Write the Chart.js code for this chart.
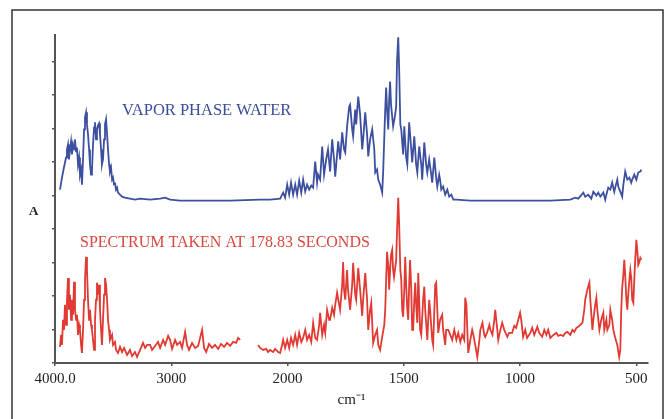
<!DOCTYPE html>
<html>
<head>
<meta charset="utf-8">
<script src="https://cdn.jsdelivr.net/npm/chart.js@4.4.0/dist/chart.umd.min.js"></script>
<style>
  html, body { margin: 0; padding: 0; background: #fff; }
</style>
</head>
<body>
<canvas id="spectrum" width="672" height="419"></canvas>
<script>
const tickValues = [4000, 3000, 2000, 1500, 1000, 500];
const tickLabels = ['4000.0', '3000', '2000', '1500', '1000', '500'];

// vapor phase water (blue)
const vaporWavenumber = [3957,3940,3923,3905,3897,3888,3880,3871,3862,3854,3845,3836,3828,3819,3811,3802,3793,3785,3776,3768,
  3759,3750,3742,3733,3725,3716,3707,3699,3690,3682,3673,3664,3656,3647,3639,3630,3621,3613,3604,3596,
  3587,3578,3570,3561,3552,3544,3535,3527,3518,3509,3501,3492,3484,3475,3466,3458,3441,3423,3398,3355,
  3312,3268,3182,3096,3053,3010,2924,2752,2494,2236,2150,2064,2038,2021,2003,1993,1985,1976,1967,1959,
  1950,1941,1933,1924,1916,1907,1898,1890,1881,1873,1869,1860,1851,1843,1834,1826,1817,1808,1800,1795,
  1787,1782,1774,1765,1757,1752,1744,1735,1731,1722,1718,1709,1705,1696,1688,1679,1675,1666,1658,1653,
  1645,1636,1627,1623,1615,1610,1602,1593,1589,1580,1576,1572,1567,1563,1559,1555,1546,1537,1533,1529,
  1524,1520,1515,1511,1503,1498,1490,1485,1477,1468,1464,1455,1447,1442,1434,1425,1421,1412,1404,1399,
  1391,1382,1378,1369,1361,1356,1348,1344,1339,1331,1322,1313,1305,1296,1287,1274,1214,1128,1000,870,
  784,763,750,728,720,707,694,685,672,664,655,642,634,629,621,612,604,595,591,582,
  578,569,561,556,548,539,530,522,518,509,500,492,483,479];
const vaporAbs = [5.18,5.54,5.84,6.14,6.38,6.53,6.08,6.38,6.62,6.23,6.53,6.38,6.68,6.32,6.44,5.93,6.14,5.63,5.78,5.33,
  6.08,6.98,7.34,7.49,7.13,6.83,6.38,5.93,5.63,5.78,6.53,7.04,7.19,6.68,6.98,7.10,7.16,6.83,6.38,5.93,
  6.08,6.68,7.13,7.28,6.83,6.38,5.93,5.72,5.84,5.48,5.54,5.33,5.39,5.18,5.24,5.09,5.03,4.97,4.94,4.91,
  4.88,4.91,4.88,4.91,4.94,4.88,4.85,4.85,4.85,4.88,4.88,4.91,5.09,4.94,5.33,5.03,5.39,5.03,5.33,5.03,
  5.45,5.09,5.48,5.12,5.33,5.18,5.30,5.24,6.02,5.39,5.63,5.48,6.47,5.63,6.08,6.38,5.72,6.68,6.08,5.57,
  6.23,6.62,6.08,6.89,6.38,6.29,7.07,7.66,7.72,6.98,6.77,7.57,7.13,7.96,7.43,6.38,6.68,7.49,6.83,6.17,
  6.68,6.98,6.38,5.69,5.78,5.48,5.33,5.09,5.69,7.57,8.23,7.57,6.98,7.87,8.41,7.72,7.07,7.43,7.66,9.07,
  9.73,8.77,7.13,6.98,6.23,7.07,6.14,5.93,7.19,6.38,5.99,6.77,5.93,5.69,6.47,5.93,5.48,6.59,5.93,5.69,
  6.08,5.63,5.39,6.14,5.54,5.27,5.63,5.48,5.18,5.27,5.03,5.18,4.97,5.03,4.88,4.88,4.85,4.85,4.85,4.85,
  4.88,4.94,4.91,5.09,4.97,5.03,4.91,5.12,5.00,5.09,4.97,5.09,4.88,5.03,5.24,5.18,5.39,5.12,5.24,5.48,
  5.27,5.12,4.97,5.33,5.72,5.48,5.54,5.39,5.48,5.63,5.48,5.69,5.72,5.78];

// spectrum at 178.83 s (red), null = gap in the recorded trace
const sampleWavenumber = [3957,3948,3940,3931,3923,3914,3905,3897,3888,3880,3871,3862,3854,3845,3836,3828,3819,3811,3802,3793,
  3785,3776,3768,3759,3750,3742,3733,3725,3716,3707,3699,3690,3682,3673,3664,3656,3647,3639,3630,3621,
  3613,3604,3596,3587,3578,3570,3561,3552,3544,3535,3527,3509,3501,3484,3475,3458,3441,3423,3406,3380,
  3355,3337,3312,3294,3268,3243,3225,3208,3182,3165,3139,3114,3096,3070,3053,3027,3010,2993,2967,2950,
  2924,2907,2881,2864,2847,2821,2795,2769,2752,2735,2718,2700,2675,2649,2623,2597,2572,2546,2520,2494,
  2468,2442,2425,2408,2330,
  2253,2236,2210,2184,2167,2150,2124,2107,2081,2064,2047,2038,2021,2003,1993,1985,1976,1967,1959,1950,
  1941,1933,1924,1916,1907,1898,1890,1881,1873,1864,1860,1851,1843,1838,1830,1821,1817,1808,1800,1795,
  1787,1782,1774,1765,1761,1757,1752,1744,1740,1731,1722,1718,1709,1705,1696,1688,1679,1675,1666,1658,
  1653,1645,1640,1632,1623,1615,1610,1602,1593,1584,1580,1576,1572,1567,1563,1559,1555,1550,1546,1542,
  1537,1533,1529,1524,1520,1515,1511,1507,1503,1498,1494,1490,1485,1481,1477,1473,1468,1464,1460,1455,
  1451,1447,1442,1438,1434,1430,1425,1417,1412,1408,1399,1391,1387,1378,1374,1365,1361,1356,1352,1344,
  1335,1331,1322,1318,1309,1300,1292,1283,1274,1266,1257,1249,1240,1236,1231,1227,1223,1214,1206,1201,
  1193,1184,1175,1171,1162,1154,1150,1141,1132,1128,1119,1111,1107,1098,1094,1085,1077,1068,1055,1047,
  1034,1025,1017,1008,1000,995,987,978,970,956,948,939,926,918,905,896,887,879,870,857,
  844,836,827,814,806,797,784,775,767,758,750,741,732,724,720,711,702,698,689,685,
  677,672,668,659,651,642,638,629,625,616,612,604,599,591,582,574,569,565,561,556,
  552,548,543,539,535,530,526,522,518,513,509,505,500,496,492,487,483,479];
const sampleAbs = [0.48,0.84,0.54,1.29,0.99,1.74,1.14,1.89,2.54,1.59,2.04,1.29,1.89,1.44,2.43,1.59,1.29,1.44,0.84,1.14,
  0.99,0.54,0.30,0.99,1.89,2.49,3.17,2.78,1.89,1.29,1.59,1.14,0.99,0.69,0.39,1.29,1.89,2.40,2.04,2.34,
  1.59,0.99,0.54,1.29,2.04,2.54,2.34,1.89,1.29,0.99,0.69,0.84,0.54,0.63,0.39,0.30,0.48,0.33,0.45,0.24,
  0.39,0.21,0.33,0.18,0.39,0.60,0.45,0.54,0.54,0.39,0.51,0.63,0.45,0.69,0.54,0.81,0.69,0.42,0.69,0.54,
  0.63,0.45,0.93,0.54,0.39,0.60,0.45,0.51,0.75,0.99,0.45,0.33,0.57,0.45,0.54,0.42,0.57,0.48,0.60,0.51,
  0.63,0.60,0.75,0.69,null,
  0.54,0.45,0.39,0.42,0.33,0.39,0.33,0.42,0.33,0.30,0.54,0.69,0.45,0.69,0.45,0.75,0.54,0.84,0.54,0.90,
  0.63,0.75,0.99,0.69,0.84,0.63,1.20,0.75,0.69,1.14,1.50,0.84,1.14,0.90,1.59,1.29,1.29,1.65,1.44,1.74,
  2.10,1.89,1.59,2.34,3.02,2.19,1.89,2.78,2.19,1.59,2.34,2.99,2.04,1.89,2.84,2.19,1.41,1.89,2.69,1.89,
  0.99,1.59,1.80,0.60,0.84,0.99,0.54,0.39,0.78,1.14,1.59,2.49,3.32,2.93,2.19,2.78,3.23,3.38,2.78,2.57,
  2.84,3.08,3.98,4.94,4.13,2.78,2.49,1.59,1.38,2.19,3.17,2.34,1.59,1.29,2.34,3.08,2.19,0.99,0.99,1.89,
  2.40,1.74,1.20,2.69,1.89,0.99,0.84,1.89,2.28,1.59,0.69,1.89,1.59,0.69,0.54,2.34,2.40,1.59,0.90,1.29,
  1.44,0.99,0.54,0.99,0.99,0.84,0.69,0.99,0.69,0.90,0.63,0.84,0.69,1.95,1.74,0.99,0.30,0.69,0.99,0.84,
  0.54,0.18,0.69,0.99,1.20,0.84,0.78,0.93,1.14,0.99,0.84,1.29,1.59,0.99,0.69,0.99,1.20,0.99,0.78,0.90,
  0.90,1.11,1.05,1.29,1.50,1.29,0.78,0.99,0.75,0.90,1.05,0.84,1.08,0.90,0.78,0.99,0.84,0.99,0.75,0.84,
  0.90,0.81,0.84,0.81,0.90,0.93,0.84,0.99,0.93,1.05,1.08,1.14,1.20,1.59,1.89,2.19,2.40,1.89,0.99,1.29,
  1.74,1.95,1.59,0.99,1.29,1.50,0.99,1.29,0.99,1.14,1.59,1.29,0.99,0.75,0.54,0.18,0.39,1.59,2.25,2.63,
  3.08,2.63,1.89,1.59,2.04,2.49,2.78,2.54,1.89,1.80,2.49,3.08,3.68,3.38,2.93,3.02,3.14,3.08];

// the wavenumber axis is compressed above 2000 cm-1 (half the scale of the low range)
function toAxis(w) {
  return w >= 2000 ? (4000 - w) / 1000 : 2 + (2000 - w) / 500;
}
function points(ws, as) {
  return ws.map((w, i) => ({ x: toAxis(w), y: as[i] }));
}

const SERIF = "'Liberation Serif', 'Times New Roman', serif";

const frameAndLabels = {
  id: 'frameAndLabels',
  beforeDraw(chart) {
    const ctx = chart.ctx;
    ctx.save();
    ctx.fillStyle = '#fff';
    ctx.fillRect(0, 0, chart.width, chart.height);
    ctx.strokeStyle = '#333';
    ctx.lineWidth = 1.5;
    ctx.strokeRect(12, 10, 651, 440);
    ctx.restore();
  },
  afterDraw(chart) {
    const ctx = chart.ctx;
    ctx.save();
    ctx.textBaseline = 'alphabetic';
    ctx.textAlign = 'left';
    ctx.font = '16.5px ' + SERIF;
    ctx.fillStyle = '#3b4c98';
    ctx.fillText('VAPOR PHASE WATER', 122, 115);
    ctx.font = '16px ' + SERIF;
    ctx.fillStyle = '#d8473c';
    ctx.fillText('SPECTRUM TAKEN AT 178.83 SECONDS', 80, 247);
    ctx.font = 'bold 13px ' + SERIF;
    ctx.fillStyle = '#222';
    ctx.fillText('A', 29, 215);
    ctx.restore();
  }
};

new Chart(document.getElementById('spectrum'), {
  type: 'line',
  data: {
    datasets: [{
      label: 'Vapor phase water',
      data: points(vaporWavenumber, vaporAbs),
      borderColor: '#3d50a0',
      borderWidth: 1.8,
      pointRadius: 0,
      tension: 0
    }, {
      label: 'Spectrum taken at 178.83 seconds',
      data: points(sampleWavenumber, sampleAbs),
      borderColor: '#e03a33',
      borderWidth: 1.8,
      pointRadius: 0,
      tension: 0,
      spanGaps: false
    }]
  },
  options: {
    responsive: false,
    animation: false,
    devicePixelRatio: 1,
    layout: { padding: { top: 35, right: 24, left: 0, bottom: 0 } },
    scales: {
      x: {
        type: 'linear',
        min: 0,
        max: 5.1,
        afterFit(s) { s.height = 56; },
        afterBuildTicks(s) { s.ticks = tickValues.map(v => ({ value: toAxis(v) })); },
        ticks: {
          callback: (val, i) => tickLabels[i],
          font: { family: SERIF, size: 15 },
          color: '#222',
          padding: 4,
          maxRotation: 0,
          autoSkip: false
        },
        grid: { drawOnChartArea: false, tickLength: 3, color: '#555', lineWidth: 1.5 },
        border: { color: '#555', width: 2 },
        title: {
          display: true,
          text: 'cm⁻¹',
          font: { family: SERIF, size: 15 },
          color: '#222',
          padding: { top: 0, bottom: 10 }
        }
      },
      y: {
        min: 0,
        max: 9.8,
        afterFit(s) { s.width = 55; },
        ticks: { stepSize: 1, display: false, includeBounds: false },
        grid: { drawOnChartArea: false, tickLength: 3, color: '#555', lineWidth: 1.5 },
        border: { color: '#555', width: 2 }
      }
    },
    plugins: {
      legend: { display: false },
      tooltip: { enabled: false }
    }
  },
  plugins: [frameAndLabels]
});
</script>
</body>
</html>
